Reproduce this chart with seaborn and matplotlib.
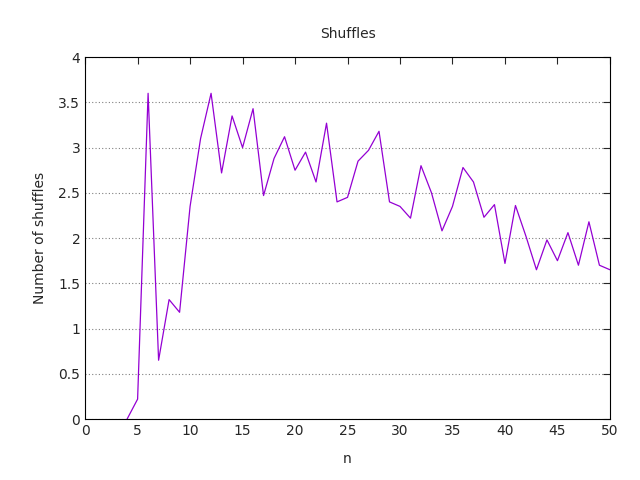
import matplotlib
matplotlib.use("Agg")
import matplotlib.pyplot as plt
import pandas as pd
import seaborn as sns

n = list(range(4, 51))
shuffles = [0.0, 0.22, 3.6, 0.65, 1.32, 1.18, 2.35, 3.1, 3.6, 2.72, 3.35, 3.0, 3.43,
            2.47, 2.88, 3.12, 2.75, 2.95, 2.62, 3.27, 2.4, 2.45, 2.85, 2.97, 3.18,
            2.4, 2.35, 2.22, 2.8, 2.5, 2.08, 2.35, 2.78, 2.62, 2.23, 2.37, 1.72,
            2.36, 2.02, 1.65, 1.98, 1.75, 2.06, 1.7, 2.18, 1.7, 1.65]
df = pd.DataFrame({"n": n, "shuffles": shuffles})

sns.set_style("white")
plt.rcParams.update({"font.size": 10, "font.family": "DejaVu Sans"})

fig, ax = plt.subplots(figsize=(6.4, 4.8), dpi=100)
sns.lineplot(data=df, x="n", y="shuffles", color="#9400d3", linewidth=0.9, ax=ax)

ax.set_xlim(0, 50)
ax.set_ylim(0, 4)
ax.set_xticks(range(0, 51, 5))
ax.set_yticks([0, 0.5, 1, 1.5, 2, 2.5, 3, 3.5, 4])
ax.set_yticklabels(["0", "0.5", "1", "1.5", "2", "2.5", "3", "3.5", "4"])
ax.yaxis.grid(True, linestyle=(0, (1, 2)), color="#808080", linewidth=0.8)
ax.tick_params(direction="in", top=True, right=True, length=5, labelsize=10)
for s in ax.spines.values():
    s.set_color("black")
    s.set_linewidth(0.8)

ax.set_title("Shuffles", pad=14, fontsize=10)
ax.set_xlabel("n", labelpad=10)
ax.set_ylabel("Number of shuffles", labelpad=8)

plt.subplots_adjust(left=0.133, right=0.953, bottom=0.127, top=0.881)
plt.savefig("out.png", dpi=100)
